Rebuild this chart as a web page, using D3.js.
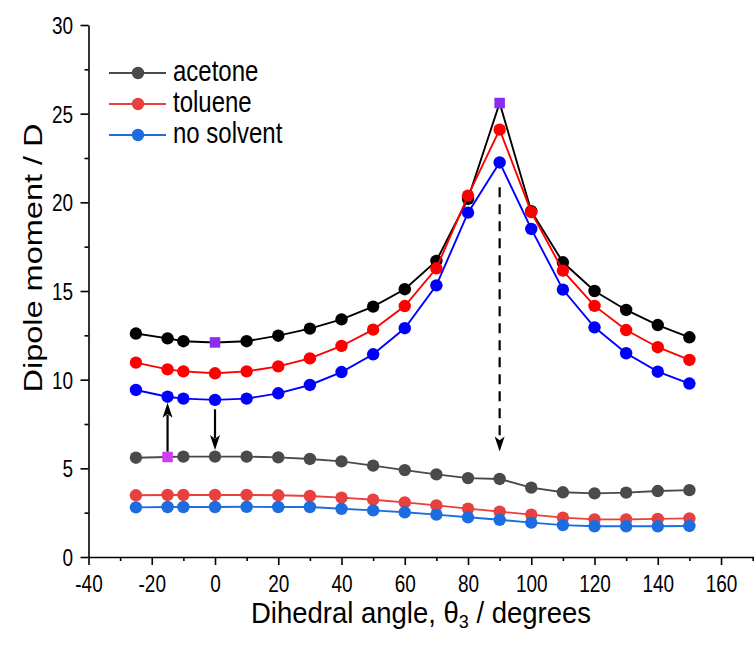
<!DOCTYPE html>
<html>
<head>
<meta charset="utf-8">
<script src="https://cdn.jsdelivr.net/npm/d3@7/dist/d3.min.js"></script>
<style>
  html, body { margin: 0; padding: 0; background: #fff; }
  svg { display: block; }
  text { font-family: "Liberation Sans", Arial, sans-serif; fill: #000; }
</style>
</head>
<body>
<svg id="chart" width="754" height="645"></svg>
<script>
// Dihedral angle scan (degrees)
const angles = [-25, -15, -10, 0, 10, 20, 30, 40, 50, 60, 70, 80, 90, 100, 110, 120, 130, 140, 150];

// Upper branch of dipole moments (D)
const acetoneHigh   = [12.6, 12.33, 12.17, 12.1, 12.17, 12.48, 12.88, 13.4, 14.12, 15.1, 16.7, 20.2, 25.6, 19.5, 16.62, 15.0, 13.93, 13.08, 12.39];
const tolueneHigh   = [10.96, 10.58, 10.47, 10.36, 10.47, 10.75, 11.2, 11.9, 12.82, 14.15, 16.28, 20.38, 24.1, 19.45, 16.15, 14.16, 12.8, 11.83, 11.11];
const noSolventHigh = [9.42, 9.04, 8.93, 8.86, 8.93, 9.23, 9.7, 10.43, 11.43, 12.9, 15.32, 19.42, 22.25, 18.5, 15.08, 12.95, 11.49, 10.45, 9.78];

// Lower branch of dipole moments (D)
const acetoneLow   = [5.6, 5.64, 5.66, 5.66, 5.66, 5.62, 5.53, 5.39, 5.15, 4.9, 4.66, 4.45, 4.4, 3.91, 3.65, 3.59, 3.63, 3.72, 3.77];
const tolueneLow   = [3.48, 3.5, 3.5, 3.5, 3.5, 3.48, 3.44, 3.35, 3.23, 3.08, 2.91, 2.73, 2.56, 2.39, 2.22, 2.12, 2.12, 2.15, 2.18];
const noSolventLow = [2.8, 2.82, 2.82, 2.82, 2.83, 2.82, 2.82, 2.72, 2.63, 2.52, 2.39, 2.24, 2.1, 1.94, 1.8, 1.73, 1.73, 1.73, 1.75];

// Highlighted geometries (angles) on the acetone curves
const highlightHigh = [0, 90];
const highlightLow = [-15];

// Transition arrows: angle, start value, end value (D)
const solidArrowAngles = [-15, 0];
const solidArrowFrom   = [5.94, 8.33];
const solidArrowTo     = [8.7, 6.03];
const dashedArrowAngles = [90];
const dashedArrowFrom   = [20.85];
const dashedArrowTo     = [5.95];

// Axis ticks
const xTicks = [-40, -20, 0, 20, 40, 60, 80, 100, 120, 140, 160];
const xMinorTicks = [-30, -10, 10, 30, 50, 70, 90, 110, 130, 150, 170];
const yTicks = [0, 5, 10, 15, 20, 25, 30];
const yMinorTicks = [2.5, 7.5, 12.5, 17.5, 22.5, 27.5];

const legendNames = ["acetone", "toluene", "no solvent"];

const svg = d3.select("#chart");
const W = 754, H = 645;
svg.append("rect").attr("width", W).attr("height", H).attr("fill", "#fff");

const x = d3.scaleLinear().domain([-40, 171.5]).range([88.5, 757.4]);
const y = d3.scaleLinear().domain([0, 30]).range([557, 25]);

// Tall lettering: stretch each text vertically about its own anchor
function stretch(sel, ax, ay, k) {
  sel.attr("x", ax).attr("y", ay).attr("dy", null)
    .attr("transform", `translate(${ax},${ay}) scale(1,${k}) translate(${-ax},${-ay})`);
}

// Axes
function styleAxis(g) {
  g.selectAll("path.domain").attr("stroke", "#000").attr("stroke-width", 1.6);
  g.selectAll(".tick line").attr("stroke", "#000").attr("stroke-width", 1.6);
}

const tickFont = 19;
const plainInt = d => String(d);

const xAxisG = svg.append("g").attr("transform", `translate(0,${y(0)})`)
  .call(d3.axisBottom(x).tickValues(xTicks).tickSize(8).tickSizeOuter(0).tickFormat(plainInt));
styleAxis(xAxisG);
xAxisG.selectAll(".tick text")
  .attr("font-size", tickFont).attr("font-family", "Liberation Sans, Arial, sans-serif").attr("fill", "#000")
  .each(function () { stretch(d3.select(this), 0, 35, 1.25); });

const xMinorG = svg.append("g").attr("transform", `translate(0,${y(0)})`)
  .call(d3.axisBottom(x).tickValues(xMinorTicks).tickSize(4).tickFormat(""));
xMinorG.select("path.domain").remove();
styleAxis(xMinorG);

const yAxisG = svg.append("g").attr("transform", `translate(${x(-40)},0)`)
  .call(d3.axisLeft(y).tickValues(yTicks).tickSize(8).tickSizeOuter(0).tickFormat(plainInt));
styleAxis(yAxisG);
yAxisG.selectAll(".tick text")
  .attr("font-size", tickFont).attr("font-family", "Liberation Sans, Arial, sans-serif").attr("fill", "#000")
  .attr("text-anchor", "end")
  .each(function () { stretch(d3.select(this), -15.5, 8.5, 1.25); });

const yMinorG = svg.append("g").attr("transform", `translate(${x(-40)},0)`)
  .call(d3.axisLeft(y).tickValues(yMinorTicks).tickSize(4).tickFormat(""));
yMinorG.select("path.domain").remove();
styleAxis(yMinorG);

// Axis titles
svg.append("text")
  .attr("transform", `translate(42,258) rotate(-90) scale(1.25,1)`)
  .attr("text-anchor", "middle")
  .attr("font-size", 26)
  .text("Dipole moment / D");

const xTitle = svg.append("text")
  .attr("text-anchor", "middle")
  .attr("font-size", 27.5);
stretch(xTitle, 421, 623, 1.06);
xTitle.append("tspan").text("Dihedral angle, \u03B8");
xTitle.append("tspan").attr("font-size", 18).attr("dy", 5).text("3");
xTitle.append("tspan").attr("dy", -5).text(" / degrees");

// Series: lower branch first, upper branch on top
const series = [
  { values: acetoneLow,    color: "#4a4a4a" },
  { values: tolueneLow,    color: "#e8403f" },
  { values: noSolventLow,  color: "#1c6ee0" },
  { values: acetoneHigh,   color: "#000000" },
  { values: tolueneHigh,   color: "#ff0000" },
  { values: noSolventHigh, color: "#0000ff" }
];

const line = d3.line().x((d, i) => x(angles[i])).y(d => y(d));
const R = 6.2;

series.forEach(s => {
  const g = svg.append("g");
  g.append("path").datum(s.values)
    .attr("d", line)
    .attr("fill", "none")
    .attr("stroke", s.color)
    .attr("stroke-width", 1.9);
  const highlight = s.values === acetoneHigh ? highlightHigh : (s.values === acetoneLow ? highlightLow : []);
  g.selectAll("circle")
    .data(s.values.map((v, i) => ({ a: angles[i], v })).filter(d => !highlight.includes(d.a)))
    .join("circle")
    .attr("cx", d => x(d.a))
    .attr("cy", d => y(d.v))
    .attr("r", R)
    .attr("fill", s.color);
});

// Highlighted square markers
const sq = 10.5;
svg.append("g").selectAll("rect")
  .data(highlightHigh.map(a => ({ a, v: acetoneHigh[angles.indexOf(a)] })))
  .join("rect")
  .attr("x", d => x(d.a) - sq / 2)
  .attr("y", d => y(d.v) - sq / 2)
  .attr("width", sq).attr("height", sq)
  .attr("fill", "#8b2cf0");
svg.append("g").selectAll("rect")
  .data(highlightLow.map(a => ({ a, v: acetoneLow[angles.indexOf(a)] })))
  .join("rect")
  .attr("x", d => x(d.a) - sq / 2)
  .attr("y", d => y(d.v) - sq / 2)
  .attr("width", sq).attr("height", sq)
  .attr("fill", "#d03cf6");

// Arrows
function drawArrow(a, from, to, dashed) {
  const px = x(a), y0 = y(from), y1 = y(to);
  const dir = y1 > y0 ? 1 : -1;
  const headLen = 15, headHalf = 5;
  svg.append("line")
    .attr("x1", px).attr("x2", px)
    .attr("y1", y0).attr("y2", y1 - dir * headLen * 0.8)
    .attr("stroke", "#000")
    .attr("stroke-width", 2.2)
    .attr("stroke-dasharray", dashed ? "10,7" : null);
  svg.append("path")
    .attr("d", `M${px},${y1} L${px - headHalf},${y1 - dir * headLen} L${px},${y1 - dir * headLen * 0.75} L${px + headHalf},${y1 - dir * headLen} Z`)
    .attr("fill", "#000");
}
solidArrowAngles.forEach((a, i) => drawArrow(a, solidArrowFrom[i], solidArrowTo[i], false));
dashedArrowAngles.forEach((a, i) => drawArrow(a, dashedArrowFrom[i], dashedArrowTo[i], true));

// Legend
const legendColors = ["#4a4a4a", "#e8403f", "#1c6ee0"];
const legend = svg.append("g");
legendNames.forEach((name, i) => {
  const ly = 73 + i * 31;
  legend.append("line")
    .attr("x1", 109).attr("x2", 166).attr("y1", ly).attr("y2", ly)
    .attr("stroke", legendColors[i]).attr("stroke-width", 1.9);
  legend.append("circle").attr("cx", 138).attr("cy", ly).attr("r", R).attr("fill", legendColors[i]);
  const t = legend.append("text").attr("font-size", 24).text(name);
  stretch(t, 173, ly + 8, 1.2);
});
</script>
</body>
</html>
